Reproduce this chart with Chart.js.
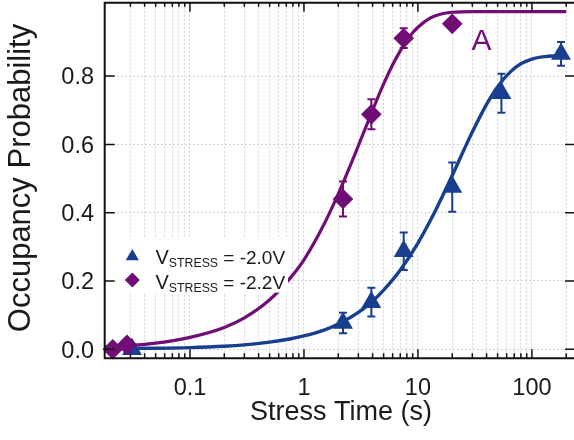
<!DOCTYPE html>
<html><head><meta charset="utf-8">
<script src="https://cdn.jsdelivr.net/npm/chart.js@4.4.1/dist/chart.umd.min.js"></script>
<style>html,body{margin:0;padding:0;background:#fff;overflow:hidden}</style>
</head><body>
<canvas id="c" width="574" height="440"></canvas>
<script>
// ---------- data ----------
const xMajorTicks = [0.1, 1, 10, 100];
const xMinorTicks = [0.03, 0.04, 0.05, 0.06, 0.07, 0.08, 0.09,
  0.2, 0.3, 0.4, 0.5, 0.6, 0.7, 0.8, 0.9,
  2, 3, 4, 5, 6, 7, 8, 9,
  20, 30, 40, 50, 60, 70, 80, 90, 200];
const yTicks = [0, 0.2, 0.4, 0.6, 0.8];
const seriesLabels = ['-2.0V', '-2.2V'];

const blueTime = [0.031, 2.2, 3.9, 7.5, 20, 54, 180];
const blueProb = [0.0, 0.077, 0.138, 0.287, 0.475, 0.750, 0.865];
const blueErr  = [0, 0.030, 0.042, 0.055, 0.072, 0.057, 0.035];

const purpleTime = [0.021, 0.028, 2.2, 3.9, 7.5, 20];
const purpleProb = [0.0, 0.013, 0.440, 0.688, 0.911, 0.953];
const purpleErr  = [0, 0, 0.051, 0.044, 0.029, 0];

const blueFitTime = [0.018, 0.05, 0.1, 0.2, 0.3, 0.5, 0.75, 1, 1.5, 2, 3, 4, 5, 7, 10, 14, 20, 25, 30, 40, 50, 65, 80, 100, 130, 160, 200];
const blueFitProb = [0.002, 0.003, 0.005, 0.009, 0.013, 0.021, 0.030, 0.039, 0.056, 0.074, 0.108, 0.141, 0.173, 0.232, 0.311, 0.401, 0.509, 0.580, 0.636, 0.717, 0.769, 0.813, 0.836, 0.850, 0.857, 0.859, 0.860];

const purpleFitTime = [0.018, 0.03, 0.05, 0.1, 0.2, 0.3, 0.5, 0.75, 1, 1.5, 2, 2.5, 3, 4, 5, 6, 7, 8.5, 10, 13, 16, 20, 30, 60, 200];
const purpleFitProb = [0.007, 0.011, 0.018, 0.035, 0.064, 0.092, 0.145, 0.207, 0.262, 0.366, 0.455, 0.531, 0.596, 0.700, 0.777, 0.833, 0.874, 0.917, 0.943, 0.971, 0.982, 0.987, 0.989, 0.989, 0.989];

const panelLabel = 'A';
const xTitle = 'Stress Time (s)';
const yTitle = 'Occupancy Probability';

// ---------- style ----------
const BLUE = '#183f8f';
const PURPLE = '#700d76';
const FONT = '"Liberation Sans", Arial, sans-serif';

const pts = (xs, ys) => xs.map((x, i) => ({x: x, y: ys[i]}));

const decor = {
  id: 'decor',
  beforeDatasetsDraw(chart) {
    const ctx = chart.ctx, xs = chart.scales.x, ys = chart.scales.y;
    const bars = [[blueTime, blueProb, blueErr, BLUE], [purpleTime, purpleProb, purpleErr, PURPLE]];
    ctx.save();
    ctx.lineWidth = 2;
    for (const [T, P, E, col] of bars) {
      ctx.strokeStyle = col;
      T.forEach((t, i) => {
        if (!E[i]) return;
        const x = xs.getPixelForValue(t);
        const y1 = ys.getPixelForValue(P[i] + E[i]);
        const y2 = ys.getPixelForValue(P[i] - E[i]);
        ctx.beginPath();
        ctx.moveTo(x, y1); ctx.lineTo(x, y2);
        ctx.moveTo(x - 4, y1); ctx.lineTo(x + 4, y1);
        ctx.moveTo(x - 4, y2); ctx.lineTo(x + 4, y2);
        ctx.stroke();
      });
    }
    ctx.restore();
  },
  afterDatasetsDraw(chart) {
    const ctx = chart.ctx;
    ctx.save();
    // legend box
    ctx.fillStyle = '#ffffff';
    ctx.fillRect(105.5, 237, 182.5, 55.5);
    const rows = [[256.5, 263.5, BLUE, 'triangle'], [280, 288.5, PURPLE, 'diamond']];
    rows.forEach(([cy, base, col, shape], k) => {
      ctx.fillStyle = col;
      ctx.beginPath();
      if (shape === 'triangle') {
        const r = 7.6;
        ctx.moveTo(132.3, cy - r);
        ctx.lineTo(132.3 + r * 0.866, cy + r / 2);
        ctx.lineTo(132.3 - r * 0.866, cy + r / 2);
      } else {
        const r = 7.5;
        ctx.moveTo(132.3, cy - r); ctx.lineTo(132.3 + r, cy);
        ctx.lineTo(132.3, cy + r); ctx.lineTo(132.3 - r, cy);
      }
      ctx.closePath(); ctx.fill();
      ctx.fillStyle = '#1a1a1a';
      ctx.textAlign = 'left'; ctx.textBaseline = 'alphabetic';
      ctx.font = '20px ' + FONT;
      let x = 155.5;
      ctx.fillText('V', x, base);
      x += ctx.measureText('V').width;
      ctx.font = '12.3px ' + FONT;
      ctx.fillText('STRESS', x, base + 3);
      x += ctx.measureText('STRESS').width;
      ctx.font = '19px ' + FONT;
      ctx.fillText(' = ' + seriesLabels[k], x, base);
    });
    // panel label
    ctx.fillStyle = PURPLE;
    ctx.font = '30px ' + FONT;
    ctx.fillText(panelLabel, 471.5, 50);
    ctx.restore();
  },
  afterDraw(chart) {
    const ctx = chart.ctx, xs = chart.scales.x, ys = chart.scales.y;
    const a = chart.chartArea;
    ctx.save();
    ctx.strokeStyle = '#111';
    ctx.lineWidth = 2;
    ctx.beginPath();
    ctx.moveTo(a.left, a.top); ctx.lineTo(a.left, a.bottom);
    ctx.moveTo(a.left - 1, a.bottom); ctx.lineTo(a.right, a.bottom);
    ctx.moveTo(a.left - 1, a.top); ctx.lineTo(a.right, a.top);
    ctx.stroke();
    ctx.lineWidth = 1.5;
    ctx.beginPath();
    const all = xMinorTicks.concat(xMajorTicks);
    all.forEach(v => {
      const x = xs.getPixelForValue(v);
      const len = xMajorTicks.includes(v) ? 9 : 5;
      ctx.moveTo(x, a.bottom); ctx.lineTo(x, a.bottom - len);
      ctx.moveTo(x, a.top); ctx.lineTo(x, a.top + (xMajorTicks.includes(v) ? 9 : 4));
    });
    yTicks.forEach(v => {
      const y = ys.getPixelForValue(v);
      ctx.moveTo(a.left, y); ctx.lineTo(a.left + 10, y);
      ctx.moveTo(a.right, y); ctx.lineTo(a.right - 9, y);
    });
    ctx.stroke();
    // tick labels
    ctx.fillStyle = '#1a1a1a';
    ctx.font = '23.5px ' + FONT;
    ctx.textBaseline = 'alphabetic';
    ctx.textAlign = 'center';
    xMajorTicks.forEach(v => ctx.fillText(String(v), xs.getPixelForValue(v), 395));
    ctx.textAlign = 'right';
    yTicks.forEach(v => ctx.fillText(v.toFixed(1), 94, ys.getPixelForValue(v) + 8.4));
    // titles
    ctx.textAlign = 'center';
    ctx.font = '27px ' + FONT;
    ctx.fillText(xTitle, 341, 420);
    ctx.translate(30, 178);
    ctx.rotate(-Math.PI / 2);
    ctx.font = '31px ' + FONT;
    ctx.fillText(yTitle, 0, 0);
    ctx.restore();
  }
};

const gridOpts = {color: '#d4d4d4', lineWidth: 1, drawTicks: false};
new Chart(document.getElementById('c').getContext('2d'), {
  type: 'scatter',
  data: {
    datasets: [
      {label: 'V = ' + seriesLabels[1], data: pts(purpleTime, purpleProb), pointStyle: 'rectRot', pointRadius: 10.3,
       backgroundColor: PURPLE, borderColor: PURPLE, borderWidth: 0, showLine: false, clip: false, order: 1},
      {label: 'V = ' + seriesLabels[0], data: pts(blueTime, blueProb), pointStyle: 'triangle', pointRadius: 11.5,
       backgroundColor: BLUE, borderColor: BLUE, borderWidth: 0, showLine: false, clip: false, order: 2},
      {label: 'fit ' + seriesLabels[1], data: pts(purpleFitTime, purpleFitProb), showLine: true, pointRadius: 0,
       borderColor: PURPLE, borderWidth: 3.2, cubicInterpolationMode: 'monotone', order: 3},
      {label: 'fit ' + seriesLabels[0], data: pts(blueFitTime, blueFitProb), showLine: true, pointRadius: 0,
       borderColor: BLUE, borderWidth: 3.4, cubicInterpolationMode: 'monotone', order: 4}
    ]
  },
  options: {
    responsive: false, animation: false, devicePixelRatio: 1, events: [],
    layout: {autoPadding: false, padding: {top: 2.7, left: 0, right: 0, bottom: 0}},
    plugins: {legend: {display: false}, tooltip: {enabled: false}, title: {display: false}},
    scales: {
      x: {type: 'logarithmic', min: 0.01785, max: 234,
          afterBuildTicks: s => { s.ticks = xMinorTicks.concat(xMajorTicks).sort((p, q) => p - q).map(v => ({value: v})); },
          afterFit: s => { s.height = 81.7; },
          ticks: {display: false}, grid: gridOpts, border: {display: false, dash: [2, 2]}},
      y: {type: 'linear', min: -0.0264, max: 1.0149,
          afterBuildTicks: s => { s.ticks = yTicks.map(v => ({value: v})); },
          afterFit: s => { s.width = 104.7; },
          ticks: {display: false}, grid: gridOpts, border: {display: false, dash: [2, 2]}}
    }
  },
  plugins: [decor]
});
</script>
</body></html>
